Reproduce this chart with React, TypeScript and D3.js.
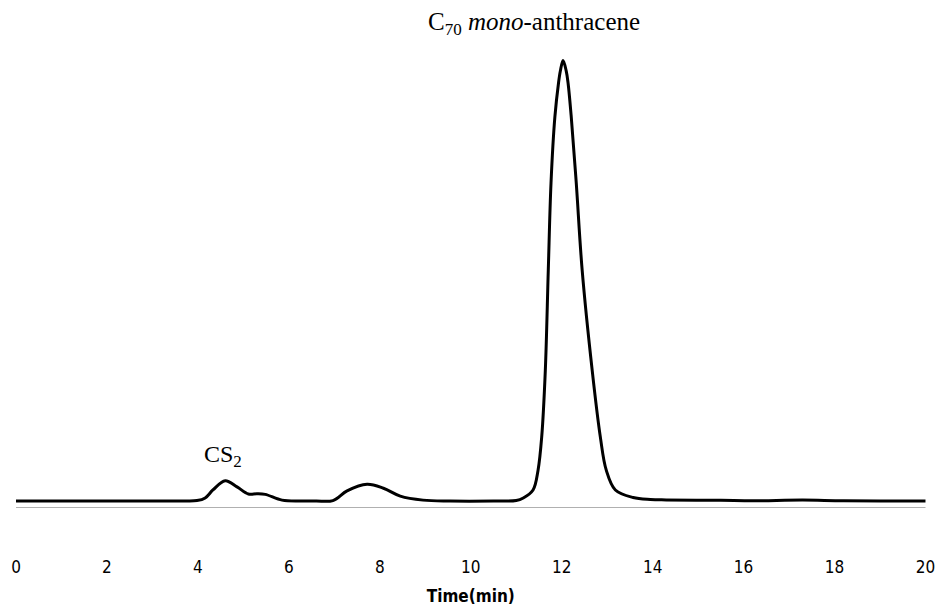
import React from "react";
import * as d3 from "d3";

// Retention time (min) and detector signal (relative units)
const times: number[] = [
  0, 2, 3.7, 3.98, 4.16, 4.33, 4.6, 4.86, 5.11, 5.3, 5.48, 5.85, 6.25, 6.6, 6.97, 7.28, 7.72, 8.08, 8.45, 8.95, 9.55,
  10.5, 11.0, 11.155, 11.37, 11.48, 11.56, 11.64, 11.705, 11.765, 11.85, 11.93, 11.97, 12.03, 12.1, 12.14,
  12.21, 12.32, 12.45, 12.67, 12.85, 12.98, 13.18, 13.57, 13.95, 14.3, 15.5, 16.2, 17.3, 18.2, 20,
];
const signal: number[] = [
  0, 0, 0, 0.1, 0.7, 2.5, 4.6, 3.2, 1.6, 1.65, 1.5, 0.2, 0, 0, 0.1, 2.3, 3.8, 2.9, 1.1, 0.2, 0,
  0, 0.1, 0.68, 2.5, 7.0, 14.5, 29.7, 52.4, 72.2, 87.2, 94.9, 97.6, 100, 97.6, 94.9,
  87.2, 72.2, 52.4, 29.7, 14.5, 7.0, 2.5, 0.8, 0.35, 0.25, 0.15, 0.05, 0.2, 0.05, 0,
];
const xTicks: number[] = [0, 2, 4, 6, 8, 10, 12, 14, 16, 18, 20];
const xLabel = "Time(min)";

const W = 941;
const H = 610;

export default function App() {
  const x = d3.scaleLinear().domain([0, 20]).range([16, 925.5]);
  const y = d3.scaleLinear().domain([0, 100]).range([501, 60.5]);
  const pts: [number, number][] = times.map((t, i) => [t, signal[i]]);
  const line = d3
    .line<[number, number]>()
    .x((d) => x(d[0]))
    .y((d) => y(d[1]))
    .curve(d3.curveCatmullRom.alpha(0.5));
  const tickFont = "'DejaVu Sans Condensed', 'DejaVu Sans', sans-serif";
  const serif = "'Liberation Serif', 'Times New Roman', serif";
  return (
    <svg
      width={W}
      height={H}
      style={{ position: "absolute", left: 0, top: 0, background: "#fff" }}
    >
      <rect x={0} y={0} width={W} height={H} fill="#fff" />
      <line x1={x(0)} x2={x(20)} y1={507.5} y2={507.5} stroke="#b0b0b0" strokeWidth={1.2} />
      <path d={line(pts) || ""} fill="none" stroke="#000" strokeWidth={3} strokeLinejoin="round" />
      {xTicks.map((t) => (
        <text
          key={t}
          x={x(t)}
          y={573}
          textAnchor="middle"
          fontFamily={tickFont}
          fontStretch="condensed"
          fontSize={17}
          fill="#000"
        >
          {t}
        </text>
      ))}
      <text
        x={x(10)}
        y={602}
        textAnchor="middle"
        fontFamily={tickFont}
        fontStretch="condensed"
        fontWeight="bold"
        fontSize={17}
        fill="#000"
      >
        {xLabel}
      </text>
      <text x={428} y={30} fontFamily={serif} fontSize={25} fill="#000">
        C<tspan fontSize={17} dy={5}>70</tspan>
        <tspan dy={-5}> </tspan>
        <tspan fontStyle="italic">mono</tspan>-anthracene
      </text>
      <text x={204} y={462} fontFamily={serif} fontSize={24} fill="#000">
        CS<tspan fontSize={17} dy={5}>2</tspan>
      </text>
    </svg>
  );
}
